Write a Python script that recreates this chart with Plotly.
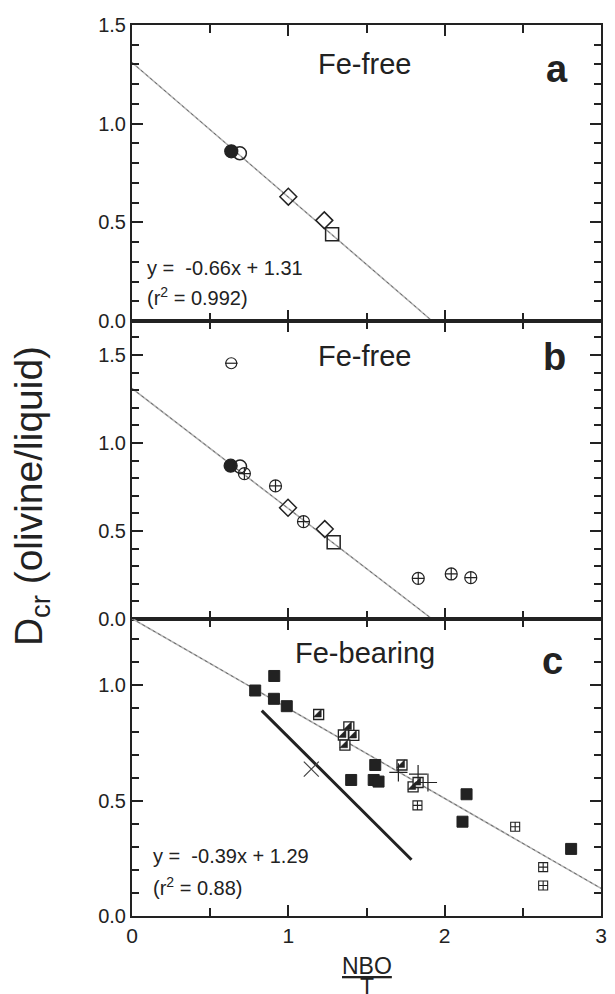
import plotly.graph_objects as go

FONT = "Liberation Sans, Arial, Helvetica, sans-serif"
INK = "#222222"

# ---------------- Panel a: Fe-free ----------------
a_filled_circle_x = [0.635]
a_filled_circle_y = [0.86]
a_open_circle_x = [0.69]
a_open_circle_y = [0.85]
a_diamond_x = [1.0, 1.23]
a_diamond_y = [0.63, 0.51]
a_square_x = [1.28]
a_square_y = [0.44]
fit_ab_x = [0.0, 1.92]
fit_ab_y = [1.31, 0.0]

# ---------------- Panel b: Fe-free ----------------
b_filled_circle_x = [0.631]
b_filled_circle_y = [0.871]
b_open_circle_x = [0.691]
b_open_circle_y = [0.866]
b_diamond_x = [0.998, 1.233]
b_diamond_y = [0.632, 0.511]
b_square_x = [1.29]
b_square_y = [0.436]
b_crossed_circle_x = [0.719, 0.918, 1.097, 1.831, 2.042, 2.167]
b_crossed_circle_y = [0.826, 0.756, 0.553, 0.231, 0.256, 0.235]
b_theta_x = [0.635]
b_theta_y = [1.453]

# ---------------- Panel c: Fe-bearing ----------------
c_filled_square_x = [0.788, 0.91, 0.908, 0.99, 1.402, 1.556, 1.546, 1.577, 2.14, 2.114, 2.809]
c_filled_square_y = [0.978, 1.041, 0.942, 0.91, 0.59, 0.655, 0.59, 0.583, 0.528, 0.409, 0.291]
c_half_square_x = [1.194, 1.387, 1.419, 1.352, 1.362, 1.727, 1.798, 1.83]
c_half_square_y = [0.874, 0.82, 0.783, 0.785, 0.741, 0.655, 0.56, 0.579]
c_plus_x = [1.704, 1.83, 1.893]
c_plus_y = [0.623, 0.615, 0.579]
c_cross_x = [1.147]
c_cross_y = [0.637]
c_grid_square_x = [1.826, 2.451, 2.63, 2.63]
c_grid_square_y = [0.48, 0.387, 0.212, 0.132]
fit_c_x = [0.0, 3.0]
fit_c_y = [1.29, 0.12]
trend_c_x = [0.83, 1.788]
trend_c_y = [0.891, 0.244]

y_tick_vals = [0.0, 0.5, 1.0, 1.5]
y_tick_text = ["0.0", "0.5", "1.0", "1.5"]
x_tick_vals = [0, 1, 2, 3]
x_tick_text = ["0", "1", "2", "3"]
x_minor_vals = [0.5, 1.5, 2.5]

fig = go.Figure()


def add(x, y, xa, ya, symbol, size, color="black", lw=1.3, lc="black"):
    fig.add_trace(go.Scatter(
        x=x, y=y, xaxis=xa, yaxis=ya, mode="markers", showlegend=False,
        hoverinfo="skip",
        marker=dict(symbol=symbol, size=size, color=color,
                    line=dict(width=lw, color=lc))))


def fitline(x, y, xa, ya):
    fig.add_trace(go.Scatter(x=x, y=y, xaxis=xa, yaxis=ya, mode="lines",
                             showlegend=False, hoverinfo="skip",
                             line=dict(color="#b4b4b4", width=1.6)))
    fig.add_trace(go.Scatter(x=x, y=y, xaxis=xa, yaxis=ya, mode="lines",
                             showlegend=False, hoverinfo="skip",
                             line=dict(color="#555555", width=0.8, dash="dot")))


# panel a
fitline(fit_ab_x, fit_ab_y, "x", "y")
add(a_filled_circle_x, a_filled_circle_y, "x", "y", "circle", 13, color=INK, lc=INK)
add(a_open_circle_x, a_open_circle_y, "x", "y", "circle-open", 13, color=INK, lw=1.5)
add(a_diamond_x, a_diamond_y, "x", "y", "diamond-open", 13, color=INK, lw=1.5)
add(a_square_x, a_square_y, "x", "y", "square-open", 13, color=INK, lw=1.5)

# panel b
fitline(fit_ab_x, fit_ab_y, "x2", "y2")
add(b_filled_circle_x, b_filled_circle_y, "x2", "y2", "circle", 13, color=INK, lc=INK)
add(b_open_circle_x, b_open_circle_y, "x2", "y2", "circle-open", 13, color=INK, lw=1.5)
add(b_diamond_x, b_diamond_y, "x2", "y2", "diamond-open", 13, color=INK, lw=1.5)
add(b_square_x, b_square_y, "x2", "y2", "square-open", 13, color=INK, lw=1.5)
add(b_crossed_circle_x, b_crossed_circle_y, "x2", "y2", "circle-cross-open", 12, color=INK, lw=1.2)
add(b_theta_x, b_theta_y, "x2", "y2", "circle-open", 11, color=INK, lw=1.2)
add(b_theta_x, b_theta_y, "x2", "y2", "line-ew-open", 9, color=INK, lw=1.2)

# panel c
fitline(fit_c_x, fit_c_y, "x3", "y3")
fig.add_trace(go.Scatter(x=trend_c_x, y=trend_c_y, xaxis="x3", yaxis="y3", mode="lines",
                         showlegend=False, hoverinfo="skip",
                         line=dict(color=INK, width=3)))
add(c_filled_square_x, c_filled_square_y, "x3", "y3", "square", 11, color=INK, lc=INK, lw=1)
add(c_half_square_x, c_half_square_y, "x3", "y3", "square", 10, color="white", lc=INK, lw=1.3)
add(c_half_square_x, c_half_square_y, "x3", "y3", "triangle-se", 8.6, color=INK, lc=INK, lw=0.5)
add(c_plus_x, c_plus_y, "x3", "y3", "cross-thin-open", 13, color=INK, lw=1.2)
add(c_cross_x, c_cross_y, "x3", "y3", "x-thin-open", 15, color="#444444", lw=1.2)
add(c_grid_square_x, c_grid_square_y, "x3", "y3", "square-cross-open", 9, color=INK, lw=1.1)

# axes
dom = {"y": [0.6678, 1.0], "y2": [0.3333, 0.6678], "y3": [0.0, 0.3333]}
yr = {"y": [0, 1.5], "y2": [0, 1.693], "y3": [0, 1.288]}


def xcfg(anchor, labels):
    return dict(
        anchor=anchor, range=[0, 3], tickvals=x_tick_vals, ticktext=x_tick_text,
        showticklabels=labels, ticks="inside", ticklen=11, tickwidth=2, tickcolor=INK,
        showline=True, linewidth=2, linecolor=INK, mirror="allticks", showgrid=False,
        zeroline=False, tickfont=dict(family=FONT, size=21, color=INK),
        minor=dict(tickvals=x_minor_vals, ticks="inside", ticklen=8, tickwidth=2,
                   tickcolor=INK, showgrid=False))


def ycfg(name):
    return dict(
        anchor={"y": "x", "y2": "x2", "y3": "x3"}[name], domain=dom[name], range=yr[name],
        tickvals=y_tick_vals, ticktext=y_tick_text, ticks="inside", ticklen=11, tickwidth=2,
        tickcolor=INK, showline=True, linewidth=2, linecolor=INK, mirror="allticks",
        showgrid=False, zeroline=False, tickfont=dict(family=FONT, size=20, color=INK),
        minor=dict(dtick=0.1, tick0=0, ticks="inside", ticklen=7, tickwidth=2,
                   tickcolor=INK, showgrid=False))


fig.update_layout(
    width=615, height=994, autosize=False,
    margin=dict(l=132, r=8, t=25, b=78),
    paper_bgcolor="white", plot_bgcolor="white",
    font=dict(family=FONT, color=INK),
    xaxis=xcfg("y", False), xaxis2=xcfg("y2", False), xaxis3=xcfg("y3", True),
    yaxis=ycfg("y"), yaxis2=ycfg("y2"), yaxis3=ycfg("y3"),
)

ann = []


def txt(text, x, y, xr, yr_, size, bold=False, xanchor="center"):
    ann.append(dict(text=("<b>%s</b>" % text) if bold else text, x=x, y=y, xref=xr, yref=yr_,
                    showarrow=False, xanchor=xanchor, yanchor="middle",
                    font=dict(family=FONT, size=size, color=INK)))


txt("Fe-free", 1.49, 1.30, "x", "y", 29)
txt("a", 2.72, 1.275, "x", "y", 38, bold=True)
txt("y =  -0.66x + 1.31", 0.085, 0.27, "x", "y", 20, xanchor="left")
txt("(r<sup>2</sup> = 0.992)", 0.085, 0.125, "x", "y", 20, xanchor="left")

txt("Fe-free", 1.49, 1.494, "x2", "y2", 29)
txt("b", 2.70, 1.49, "x2", "y2", 38, bold=True)

txt("Fe-bearing", 1.49, 1.14, "x3", "y3", 29)
txt("c", 2.69, 1.105, "x3", "y3", 38, bold=True)
txt("y =  -0.39x + 1.29", 0.12, 0.26, "x3", "y3", 20, xanchor="left")
txt("(r<sup>2</sup> = 0.88)", 0.12, 0.128, "x3", "y3", 20, xanchor="left")

ann.append(dict(text="D<sub>cr</sub> (olivine/liquid)", x=-0.213, y=0.4714, xref="paper",
                yref="paper", showarrow=False, textangle=-90, xanchor="center",
                yanchor="middle", font=dict(family=FONT, size=39, color=INK)))
ann.append(dict(text="<u>NBO</u>", x=0.502, y=-0.056, xref="paper", yref="paper",
                showarrow=False, xanchor="center", yanchor="middle",
                font=dict(family=FONT, size=23, color=INK)))
ann.append(dict(text="T", x=0.502, y=-0.080, xref="paper", yref="paper",
                showarrow=False, xanchor="center", yanchor="middle",
                font=dict(family=FONT, size=23, color=INK)))
fig.update_layout(annotations=ann)

fig.write_html("out.html")
